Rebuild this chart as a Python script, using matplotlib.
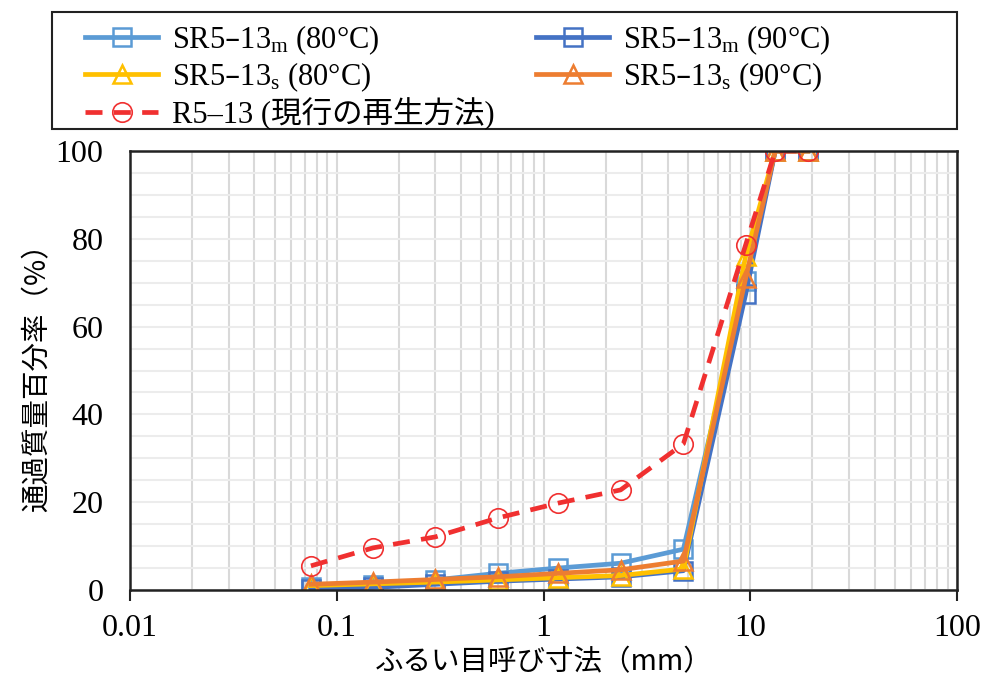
import matplotlib
matplotlib.use("Agg")
import matplotlib.pyplot as plt
from matplotlib.patches import Rectangle
from matplotlib.ticker import LogLocator, NullFormatter, MultipleLocator, FixedLocator

plt.rcParams['font.family'] = ['Liberation Serif', 'Noto Sans CJK JP']
plt.rcParams['mathtext.default'] = 'regular'

# sieve opening sizes (mm)
sieve = [0.075, 0.15, 0.3, 0.6, 1.18, 2.36, 4.75, 9.5, 13.2, 19.0]

# percent passing
m80 = [0.6, 1.2, 2.3, 3.8, 5.0, 6.1, 9.3, 70.4, 100, 100]
m90 = [0.2, 0.6, 1.3, 2.0, 2.5, 3.0, 4.4, 67.4, 100, 100]
s80 = [1.0, 1.4, 1.8, 2.3, 2.8, 3.3, 4.8, 76.0, 100, 100]
s90 = [1.3, 1.8, 2.4, 3.0, 3.8, 4.6, 6.6, 71.0, 100, 100]
r513 = [5.5, 9.6, 12.1, 16.4, 19.8, 22.8, 33.3, 78.6, 100, 100]

labels = {
    'm80': 'SR5–13$_{m}$ (80°C)',
    'm90': 'SR5–13$_{m}$ (90°C)',
    's80': 'SR5–13$_{s}$ (80°C)',
    's90': 'SR5–13$_{s}$ (90°C)',
    'r': 'R5–13 (現行の再生方法)',
}

xticks = [0.01, 0.1, 1, 10, 100]
xtick_labels = ['0.01', '0.1', '1', '10', '100']
yticks = [0, 20, 40, 60, 80, 100]

fig = plt.figure(figsize=(9.84, 6.75), dpi=100)
ax = fig.add_axes([130/984, 1-590/675, (957-130)/984, (590-151)/675])

lw = 3.4
ms = 13
mew = 1.8
h_m80, = ax.plot(sieve, m80, color='#5B9BD5', lw=lw, marker='s', ms=ms, mfc='none', mec='#5B9BD5', mew=mew, label=labels['m80'])
h_m90, = ax.plot(sieve, m90, color='#4472C4', lw=lw, marker='s', ms=ms, mfc='none', mec='#4472C4', mew=mew, label=labels['m90'])
h_s80, = ax.plot(sieve, s80, color='#FFC000', lw=lw, marker='^', ms=ms, mfc='none', mec='#FFC000', mew=mew, label=labels['s80'])
h_s90, = ax.plot(sieve, s90, color='#ED7D31', lw=lw, marker='^', ms=ms, mfc='none', mec='#ED7D31', mew=mew, label=labels['s90'])
h_r, = ax.plot(sieve, r513, color='#F03030', lw=lw, ls=(0, (3.6, 2.4)), marker='o', ms=14, mfc='none', mec='#F03030', mew=1.2, label=labels['r'])

ax.set_xscale('log')
ax.set_xlim(0.01, 100)
ax.set_ylim(0, 100)

ax.xaxis.set_major_locator(FixedLocator(xticks))
ax.set_xticklabels(xtick_labels)
ax.xaxis.set_minor_locator(LogLocator(base=10, subs=range(2, 10), numticks=20))
ax.xaxis.set_minor_formatter(NullFormatter())
ax.set_yticks(yticks)
ax.yaxis.set_minor_locator(MultipleLocator(5))

ax.grid(True, which='both', axis='x', color='#d9d9d9', lw=1.5)
ax.grid(True, which='both', axis='y', color='#ececec', lw=1.5)
ax.set_axisbelow(True)

ax.tick_params(axis='x', which='major', direction='out', length=8, width=1.5, color='#222222', labelsize=23, pad=9)
ax.tick_params(axis='x', which='minor', length=0)
ax.tick_params(axis='y', which='both', length=0, labelsize=23, pad=19)
for sp in ax.spines.values():
    sp.set_color('#222222')
    sp.set_linewidth(1.8)

ax.set_xlabel('ふるい目呼び寸法（mm）', family=['Noto Sans CJK JP'], fontsize=20.5, labelpad=3)
ax.set_ylabel('通過質量百分率（%）', family=['Noto Sans CJK JP'], fontsize=20.5, labelpad=2.5)

# legend box spanning the top of the figure
fig.patches.append(Rectangle((52/984, 1-129/675), (957-52)/984, (129-12)/675,
                             transform=fig.transFigure, fill=False,
                             edgecolor='#222222', lw=1.5))

handles = [h_m80, h_s80, h_r, h_m90, h_s90]
leg = fig.legend(handles=handles, labels=[h.get_label() for h in handles],
                 ncol=2, loc='upper left',
                 bbox_to_anchor=(85/984, 1-23/675),
                 frameon=False, fontsize=22,
                 handlelength=2.4, handletextpad=0.45, labelspacing=0.12,
                 borderpad=0, borderaxespad=0, columnspacing=1.35)

fig.savefig('out.png', dpi=100)
